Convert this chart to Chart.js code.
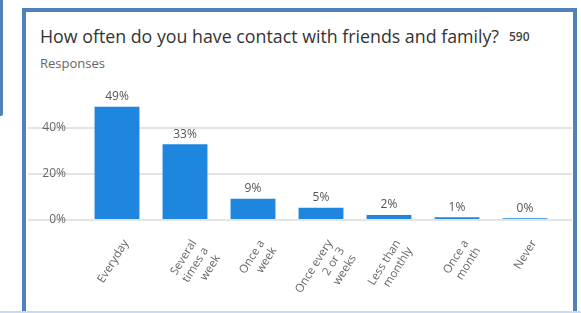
<!DOCTYPE html>
<html>
<head>
<meta charset="utf-8">
<script src="https://cdn.jsdelivr.net/npm/chart.js@4/dist/chart.umd.min.js"></script>
<style>
    html, body { margin: 0; padding: 0; background: #fff; }
    body { width: 581px; height: 313px; position: relative; overflow: hidden; font-family: "Open Sans", sans-serif; }
    .strip { position: absolute; left: 0; top: 0; width: 3px; height: 116px; background: #4f81bd; border-bottom-right-radius: 2px; }
    .card { position: absolute; left: 22px; top: 8px; width: 547px; height: 320px; border: 4px solid #4f81bd; background: #fff; }
    .bottom-line { position: absolute; left: 0; top: 311px; width: 581px; height: 2px; background: #c9dcf2; }
    .title { position: absolute; left: 40px; top: 24px; font-size: 17.8px; color: #333; white-space: nowrap; }
    .count { position: absolute; left: 509px; top: 28px; font-size: 12px; color: #444; font-weight: 600; }
    .sub { position: absolute; left: 40px; top: 54px; font-size: 13px; color: #666; }
    .chart-box { position: absolute; left: 26px; top: 75px; width: 547px; height: 238px; }
</style>
</head>
<body>
<div class="strip"></div>
<div class="card"></div>
<div class="bottom-line"></div>
<div class="title">How often do you have contact with friends and family?</div>
<div class="count">590</div>
<div class="sub">Responses</div>
<div class="chart-box"><canvas id="contactChart"></canvas></div>

<script>
    'use strict';

    const categories = [
        'Everyday',
        ['Several', 'times a', 'week'],
        ['Once a', 'week'],
        ['Once every', '2 or 3', 'weeks'],
        ['Less than', 'monthly'],
        ['Once a', 'month'],
        'Never'
    ];
    const shares = [49.2, 32.9, 9.2, 5.3, 2.2, 1.2, 0.8];
    const shareLabels = ['49%', '33%', '9%', '5%', '2%', '1%', '0%'];
    const yTicks = [0, 20, 40];

    const FONT = '"Open Sans", sans-serif';

    // value labels above the bars
    const barLabels = {
        id: 'barLabels',
        afterDatasetsDraw(chart) {
            const ctx = chart.ctx;
            const meta = chart.getDatasetMeta(0);
            ctx.save();
            ctx.font = '12px ' + FONT;
            ctx.fillStyle = '#555';
            ctx.textAlign = 'center';
            ctx.textBaseline = 'middle';
            meta.data.forEach((bar, i) => {
                ctx.fillText(shareLabels[i], bar.x, bar.y - 10);
            });
            ctx.restore();
        }
    };

    // rotated category labels, ends set a little right of the tick
    const slantedLabels = {
        id: 'slantedLabels',
        afterDraw(chart) {
            const ctx = chart.ctx;
            const xScale = chart.scales.x;
            const angle = 58 * Math.PI / 180;
            const lineHeight = 14;
            ctx.save();
            ctx.font = '11.5px ' + FONT;
            ctx.fillStyle = '#666';
            ctx.textAlign = 'right';
            ctx.textBaseline = 'middle';
            categories.forEach((label, i) => {
                const lines = Array.isArray(label) ? label : [label];
                ctx.save();
                ctx.translate(xScale.getPixelForTick(i) + 9, xScale.top + 21);
                ctx.rotate(-angle);
                lines.forEach((line, k) => ctx.fillText(line, 0, k * lineHeight));
                ctx.restore();
            });
            ctx.restore();
        }
    };

    function keepTicks(scale) {
        scale.ticks = yTicks.map(v => ({ value: v }));
    }

    function initializeChart() {
        const ctx = document.getElementById('contactChart');

        new Chart(ctx, {
            type: 'bar',
            data: {
                labels: categories,
                datasets: [{
                    data: shares,
                    backgroundColor: '#1f86df',
                    categoryPercentage: 1,
                    barPercentage: 0.66
                }]
            },
            plugins: [barLabels, slantedLabels],
            options: {
                responsive: true,
                maintainAspectRatio: false,
                animation: false,
                layout: { padding: { top: 30, left: 14, right: 1, bottom: 0 } },
                plugins: {
                    legend: { display: false },
                    tooltip: { enabled: false }
                },
                scales: {
                    x: {
                        grid: { display: false, drawTicks: false },
                        border: { display: false },
                        afterFit(scale) { scale.height = 93; },
                        ticks: { display: false }
                    },
                    y: {
                        min: 0,
                        max: 50,
                        afterBuildTicks: keepTicks,
                        afterFit(scale) { scale.width = 43; },
                        border: { display: false },
                        grid: { color: '#e4e4e4', lineWidth: 2, tickLength: 55 },
                        ticks: {
                            padding: -38,
                            color: '#666',
                            font: { family: FONT, size: 12 },
                            callback: v => v + '%'
                        }
                    },
                    y2: {
                        position: 'right',
                        min: 0,
                        max: 50,
                        afterBuildTicks: keepTicks,
                        afterFit(scale) { scale.width = 13; },
                        border: { display: false },
                        grid: { color: '#e4e4e4', lineWidth: 2, tickLength: 13, drawOnChartArea: false },
                        ticks: { display: false }
                    }
                }
            }
        });
    }

    initializeChart();
</script>
</body>
</html>
